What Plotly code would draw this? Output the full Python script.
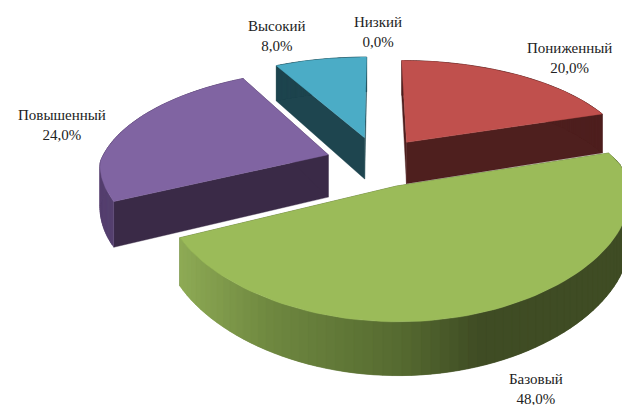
import numpy as np
import plotly.graph_objects as go

categories = ["Пониженный", "Базовый", "Повышенный", "Высокий", "Низкий"]
values = [20.0, 48.0, 24.0, 8.0, 0.0]
top_colors = ["#C0504D", "#9BBB59", "#8064A2", "#4BACC6", "#F79646"]
wall_colors = ["#4E1F1E", "#3F4C24", "#3A2A47", "#1E454F", "#7A4A20"]
rim_colors = ["#4E1F1E", None, "#55406F", "#1E454F", "#7A4A20"]
label_xy = [(569, 58), (536, 389), (62, 125), (277, 36), (378, 32)]
y_nudge = [2, 4, 3, 1, 0]

CX, CY, R, TILT, PULL, DEPTH = 377, 159, 228, 0.46, 52, 43
K_BACK, K_FRONT_X, K_FRONT_Y = 0.2, 0.08, 0.165
GREEN_STOPS = [(177, "#8FAC56"), (270, "#6F8840"), (400, "#566B31"), (480, "#3F4C24"), (640, "#3F4C24")]


def project(u, v, down=0.0, dy=0.0):
    u, v = np.asarray(u, float), np.asarray(v, float)
    sx = 1 / (1 - np.where(v < 0, K_BACK, K_FRONT_X) * v / R)
    sy = 1 / (1 - np.where(v < 0, K_BACK, K_FRONT_Y) * v / R)
    return CX + u * sx, CY + dy + TILT * v * sy + down * sy


def rim(a0, a1, pull_a, n=80):
    ang = np.radians(np.linspace(a0, a1, n))
    pu, pv = PULL * np.sin(np.radians(pull_a)), -PULL * np.cos(np.radians(pull_a))
    return R * np.sin(ang) + pu, -R * np.cos(ang) + pv, pu, pv


def hex2rgb(c):
    return np.array([int(c[i:i + 2], 16) for i in (1, 3, 5)], float)


def grad(x):
    xs = [p[0] for p in GREEN_STOPS]
    rgb = np.array([hex2rgb(p[1]) for p in GREEN_STOPS])
    return "rgb(%d,%d,%d)" % tuple(np.interp(x, xs, rgb[:, i]) for i in range(3))


def poly(fig, xs, ys, color):
    fig.add_trace(go.Scatter(x=list(xs), y=list(ys), mode="lines", fill="toself", fillcolor=color,
                             line=dict(color=color, width=0.4), hoverinfo="skip", showlegend=False))


fig = go.Figure()
starts = np.cumsum([0] + values[:-1]) * 3.6
order = [3, 0, 2, 1]
for i in order:
    a0, a1 = starts[i], starts[i] + values[i] * 3.6
    mid = (a0 + a1) / 2
    u, v, pu, pv = rim(a0, a1, mid)
    dy = y_nudge[i]
    for ue, ve in ((u[0], v[0]), (u[-1], v[-1])):
        x1, y1 = project(pu, pv, 0, dy)
        x2, y2 = project(ue, ve, 0, dy)
        x3, y3 = project(ue, ve, DEPTH, dy)
        x4, y4 = project(pu, pv, DEPTH, dy)
        poly(fig, [x1, x2, x3, x4, x1], [y1, y2, y3, y4, y1], wall_colors[i])
    for j in range(len(u) - 1):
        k = min(j + 3, len(u))
        xa, ya = project(u[j:k], v[j:k], 0, dy)
        xb, yb = project(u[j:k][::-1], v[j:k][::-1], DEPTH, dy)
        xm = float(np.mean(xa[:2]))
        col = grad(xm) if i == 1 else rim_colors[i]
        poly(fig, list(xa) + list(xb) + [xa[0]], list(ya) + list(yb) + [ya[0]], col)
    xt, yt = project(np.r_[pu, u, pu], np.r_[pv, v, pv], 0, dy)
    poly(fig, xt, yt, top_colors[i])

for name, val, (lx, ly) in zip(categories, values, label_xy):
    fig.add_annotation(x=lx, y=ly, text=f"{name}<br>{val:.1f}%".replace(".", ","), showarrow=False,
                       font=dict(family="Liberation Serif", size=15, color="#222222"), align="center")

fig.update_xaxes(range=[8, 630], visible=False)
fig.update_yaxes(range=[405, 8], visible=False)
fig.update_layout(width=622, height=397, margin=dict(l=0, r=0, t=0, b=0), plot_bgcolor="white", paper_bgcolor="white",
                  showlegend=False)
fig.write_html("out.html")
